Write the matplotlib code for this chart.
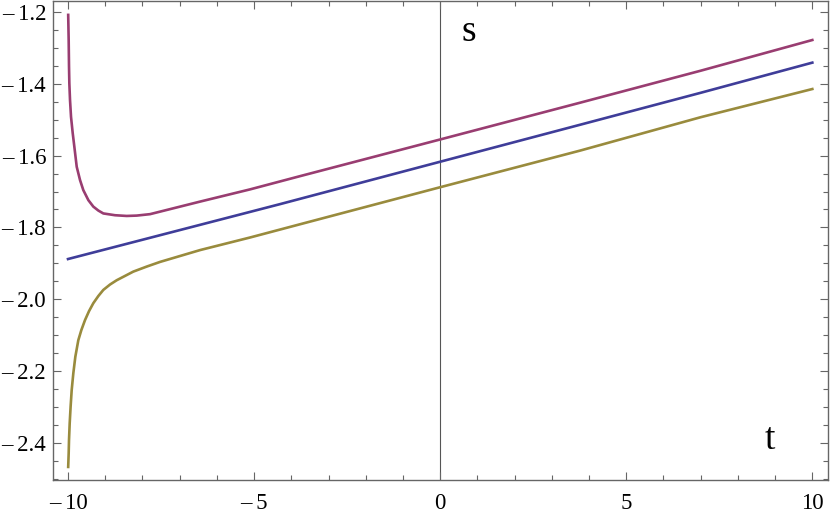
import matplotlib
matplotlib.use('Agg')
import matplotlib.pyplot as plt
from matplotlib.ticker import MultipleLocator, FuncFormatter

# data
t_upper = [-9.995, -9.982, -9.973, -9.964, -9.946, -9.919, -9.874, -9.830, -9.766,
           -9.677, -9.589, -9.453, -9.32, -9.185, -9.051, -8.737, -8.422, -8.153,
           -7.796, -7.527, -6.45, -5.108, -3.76, 0.0, 3.76, 7.0, 10.0]
s_upper = [-1.208, -1.278, -1.352, -1.399, -1.445, -1.492, -1.537, -1.575, -1.631,
           -1.668, -1.696, -1.724, -1.742, -1.753, -1.761, -1.766, -1.768, -1.767,
           -1.763, -1.756, -1.728, -1.694, -1.657, -1.555, -1.4526, -1.3635, -1.278]

t_mid = [-10.0, -4.3, 0.0, 3.76, 7.0, 10.0]
s_mid = [-1.888, -1.735, -1.617, -1.514, -1.425, -1.341]

t_lower = [-9.995, -9.982, -9.973, -9.955, -9.93, -9.901, -9.857, -9.803, -9.723,
           -9.642, -9.543, -9.435, -9.32, -9.185, -9.051, -8.871, -8.691, -8.468,
           -8.245, -7.885, -7.527, -6.45, -5.108, -3.76, 0.0, 3.76, 7.0, 10.0]
s_lower = [-2.467, -2.429, -2.392, -2.346, -2.299, -2.253, -2.206, -2.160, -2.114,
           -2.086, -2.058, -2.033, -2.011, -1.991, -1.974, -1.959, -1.947, -1.935,
           -1.923, -1.909, -1.896, -1.863, -1.828, -1.791, -1.688, -1.586, -1.493, -1.4145]

plt.rcParams['font.family'] = ['Liberation Serif', 'DejaVu Serif']

fig = plt.figure(figsize=(8.3, 5.14), dpi=100)
ax = fig.add_axes([0.064, 0.066, 0.934, 0.933])

ax.axvline(0, color='#555555', lw=0.8, zorder=1)

ax.plot(t_mid, s_mid, color='#3f3d99', lw=1.9, zorder=3)
ax.plot(t_upper, s_upper, color='#993d71', lw=1.9, zorder=3)
ax.plot(t_lower, s_lower, color='#998b3d', lw=1.9, zorder=3)

ax.set_xlim(-10.40, 10.43)
ax.set_ylim(-2.5036, -1.168)

ax.xaxis.set_major_locator(MultipleLocator(5))
ax.xaxis.set_minor_locator(MultipleLocator(1))
ax.yaxis.set_major_locator(MultipleLocator(0.2))
ax.yaxis.set_minor_locator(MultipleLocator(0.05))

def fmt_x(v, pos):
    return ('\u2013\u2009%d' % abs(round(v))) if v < 0 else '%d' % round(v)

def fmt_y(v, pos):
    return ('\u2013\u2009%.1f' % abs(v)) if v < 0 else '%.1f' % v

ax.xaxis.set_major_formatter(FuncFormatter(fmt_x))
ax.yaxis.set_major_formatter(FuncFormatter(fmt_y))

ax.tick_params(which='both', direction='in', top=True, right=True,
               color='#666666', labelsize=16.5, labelcolor='black')
ax.tick_params(which='major', length=6, width=0.8)
ax.tick_params(which='minor', length=3.5, width=0.8)
ax.tick_params(axis='x', pad=9)
ax.tick_params(axis='y', pad=5)

for sp in ax.spines.values():
    sp.set_color('#666666')
    sp.set_linewidth(1.0)

ax.text(0.78, -1.255, 's', fontsize=27, ha='center', va='center')
ax.text(8.87, -2.39, 't', fontsize=27, ha='center', va='center')

fig.savefig('out.png', dpi=100)
